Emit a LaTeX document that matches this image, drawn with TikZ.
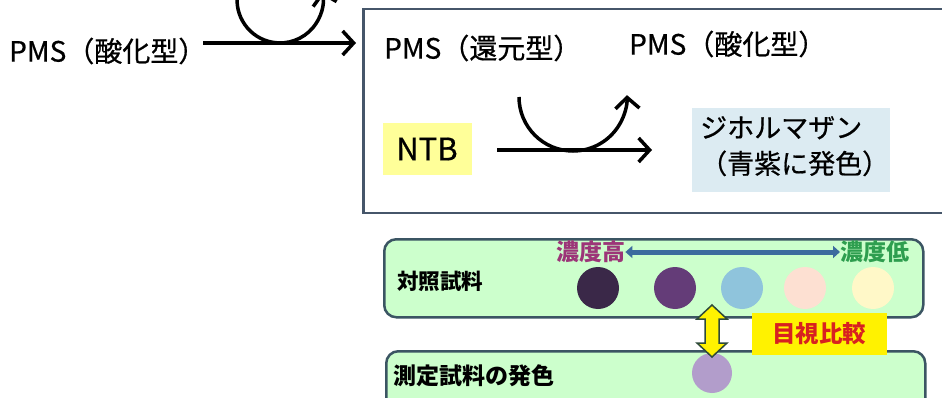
\documentclass[tikz,border=0pt]{standalone}
\usepackage{fontspec}
\setmainfont{Noto Sans CJK JP}
\newfontfamily\medfont[FakeBold=0.6]{Noto Sans CJK JP}
\usetikzlibrary{arrows.meta}
\definecolor{boxline}{HTML}{46566A}
\definecolor{ntbyellow}{HTML}{FFFF99}
\definecolor{dfblue}{HTML}{DCEBF2}
\definecolor{greenfill}{HTML}{CCFFCC}
\definecolor{greenline}{HTML}{3B5563}
\definecolor{highc}{HTML}{9C3578}
\definecolor{lowc}{HTML}{2E9E4F}
\definecolor{concarrow}{HTML}{3C6B9E}
\definecolor{cA}{HTML}{3A2848}
\definecolor{cB}{HTML}{643C78}
\definecolor{cC}{HTML}{8FC4DC}
\definecolor{cD}{HTML}{FDE0D2}
\definecolor{cE}{HTML}{FFF8C8}
\definecolor{cM}{HTML}{B29DCB}
\definecolor{compred}{HTML}{D82020}
\definecolor{yarrowline}{HTML}{2E4A3A}
\begin{document}
\begin{tikzpicture}[x=1pt,y=-1pt,
  txt/.style={inner sep=0pt, font=\medfont\fontsize{28}{32}\selectfont},
  btxt/.style={inner sep=0pt, font=\fontsize{22}{26}\selectfont\bfseries},
  arr/.style={line width=3.5pt, -{Straight Barb[length=11pt,width=24pt]}},
  samplebox/.style={draw=greenline, line width=2.5pt, fill=greenfill, rounded corners=12pt, minimum width=539pt, anchor=north west},
  dot/.style={circle, inner sep=0pt, minimum size=42pt},
]
\useasboundingbox (0,0) rectangle (942,398);
\fill[white] (0,0) rectangle (942,398);

% left part
\node[txt, anchor=west] (pmsL) at (9,51) {PMS（酸化型）};
\coordinate (a1s) at (203,43);
\coordinate (a1e) at (356,43);
\draw[arr] (a1s) -- (a1e);
\coordinate (c1s) at (237.7,-7.5);
\draw[arr] (c1s) arc[start angle=190, end angle=-12, radius=43];

% big box
\node[draw=boxline, line width=2.5pt, minimum width=620pt, minimum height=204pt, anchor=north west, inner sep=0pt] (big) at (362,8) {};
\node[txt, anchor=west] (pmsR) at (384,48) {PMS（還元型）};
\node[txt, anchor=west] (pmsO) at (629,44) {PMS（酸化型）};
\node[txt, fill=ntbyellow, minimum width=89pt, minimum height=52pt, font=\medfont\fontsize{31}{34}\selectfont] (ntb) at (427,149) {NTB};
\node[fill=dfblue, minimum width=198pt, minimum height=84pt, anchor=north west, inner sep=0pt] (df) at (692,108) {};
\node[txt, anchor=north west, align=left, font=\medfont\fontsize{27}{36}\selectfont] (dft) at (700,116) {ジホルマザン\\（青紫に発色）};
\coordinate (a2s) at (497,150);
\coordinate (a2e) at (652,150);
\draw[arr] (a2s) -- (a2e);
\coordinate (c2s) at (519,97);
\draw[arr] (c2s) arc[start angle=180, end angle=-2, radius=54];

% bottom: control samples
\node[samplebox, minimum height=78pt] (ctrl) at (383,238) {};
\node[btxt, anchor=west, font=\fontsize{21.5}{26}\selectfont\bfseries] (ctrlt) at (397,281) {対照試料};
\node[btxt, anchor=west, text=highc, font=\fontsize{23}{26}\selectfont\bfseries] (high) at (556,252) {濃度高};
\node[btxt, anchor=west, text=lowc, font=\fontsize{23}{26}\selectfont\bfseries] (low) at (840,252) {濃度低};
\draw[concarrow, line width=5pt, {Triangle[length=7pt,width=12pt]}-{Triangle[length=7pt,width=12pt]}] (high.east) -- (low.west);
\node[dot, fill=cA] (d1) at (598,288) {};
\node[dot, fill=cB] (d2) at (675,288) {};
\node[dot, fill=cC] (d3) at (742,288) {};
\node[dot, fill=cD] (d4) at (805,288) {};
\node[dot, fill=cE] (d5) at (873,288) {};

% bottom: measured sample
\node[samplebox, minimum height=60pt] (meas) at (385,350) {};
\node[btxt, anchor=west, font=\fontsize{23}{26}\selectfont\bfseries] (meast) at (393,376) {測定試料の発色};
\node[dot, fill=cM, minimum size=40pt] (dm) at (712,373) {};

% visual comparison
\node[fill=yellow, minimum width=135pt, minimum height=42pt, inner sep=0pt, text=compred, font=\fontsize{23.5}{26}\selectfont\bfseries] (cmp) at (819,334) {目視比較};
\coordinate (ytop) at (712,305);
\coordinate (ybot) at (712,357);
\draw[yarrowline, line width=1.5pt, fill=yellow, line join=miter]
  (ytop) -- ++(15,14) -- ++(-8,0) -- ++(0,24) -- ++(8,0) -- (ybot)
  -- ++(-15,-14) -- ++(8,0) -- ++(0,-24) -- ++(-8,0) -- cycle;
\end{tikzpicture}
\end{document}
